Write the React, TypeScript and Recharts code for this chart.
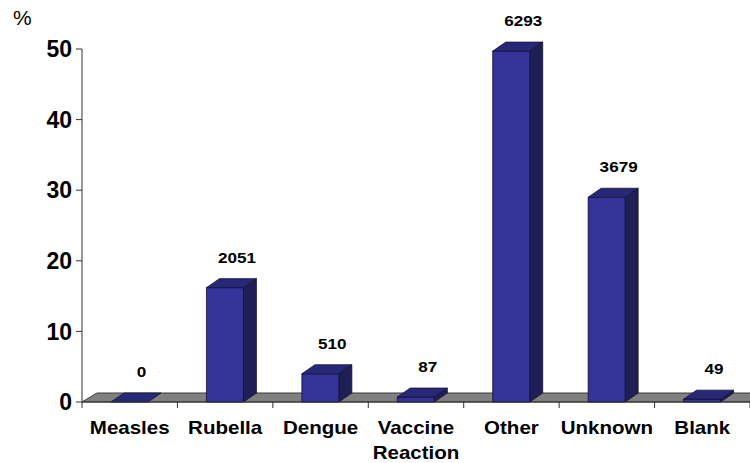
import React from 'react';
import { BarChart, Bar, XAxis, YAxis, ReferenceArea, LabelList } from 'recharts';

const categories = ['Measles', 'Rubella', 'Dengue', 'Vaccine Reaction', 'Other', 'Unknown', 'Blank'];
const percents = [0, 16.2, 4.0, 0.7, 49.7, 29.0, 0.4];
const counts = [0, 2051, 510, 87, 6293, 3679, 49];
const yTicks = [0, 10, 20, 30, 40, 50];

const data = categories.map((name, i) => ({ name, pct: percents[i], count: counts[i] }));

const FONT = '"Liberation Sans", Arial, sans-serif';
const DEPTH_X = 13;
const DEPTH_Y = 9;
// the original text is a little wider than Arial
const STRETCH = 1.14;

const Bar3D = (props: any) => {
  const x = Number(props.x);
  const y = Number(props.y);
  const w = Number(props.width);
  const h = Math.max(0, Number(props.height) || 0);
  const top = `${x},${y} ${x + w},${y} ${x + w + DEPTH_X},${y - DEPTH_Y} ${x + DEPTH_X},${y - DEPTH_Y}`;
  const side = `${x + w},${y} ${x + w + DEPTH_X},${y - DEPTH_Y} ${x + w + DEPTH_X},${y + h - DEPTH_Y} ${x + w},${y + h}`;
  return (
    <g stroke="#111133" strokeWidth={0.8} strokeLinejoin="round">
      {h > 0 && <polygon points={side} fill="#1f1f55" />}
      {h > 0 && <rect x={x} y={y} width={w} height={h} fill="#333399" />}
      <polygon points={top} fill="#282878" />
    </g>
  );
};

const Floor = (props: any) => {
  const x = Number(props.x);
  const w = Number(props.width);
  const base = Number(props.y) + Number(props.height);
  const pts = `${x},${base} ${x + w},${base} ${x + w + 15},${base - DEPTH_Y} ${x + 15},${base - DEPTH_Y}`;
  return <polygon points={pts} fill="#808080" stroke="#3a3a3a" strokeWidth={1} />;
};

const CountLabel = (props: any) => {
  const x = Number(props.x);
  const y = Number(props.y);
  const w = Number(props.width);
  return (
    <text
      transform={`translate(${x + w / 2 + 12},${y - 25}) scale(${STRETCH},1)`}
      textAnchor="middle"
      fontFamily={FONT}
      fontWeight="bold"
      fontSize={15}
      fill="#000"
    >
      {props.value}
    </text>
  );
};

const XTick = (props: any) => {
  const { x, y, payload, index } = props;
  const off = payload.offset ?? 0;
  const lines = String(payload.value).split(' ');
  const axisY = y - 6;
  return (
    <g>
      <line x1={x - off} y1={axisY} x2={x - off} y2={axisY + 6} stroke="#333" />
      {index === categories.length - 1 && (
        <line x1={x + off} y1={axisY} x2={x + off} y2={axisY + 6} stroke="#333" />
      )}
      <text
        transform={`translate(${x},${y + 26}) scale(${STRETCH},1)`}
        textAnchor="middle"
        fontFamily={FONT}
        fontWeight="bold"
        fontSize={18}
        fill="#000"
      >
        {lines.map((l, i) => (
          <tspan key={i} x={0} dy={i === 0 ? 0 : 25}>
            {l}
          </tspan>
        ))}
      </text>
    </g>
  );
};

const PercentLabel = (props: any) => {
  const vb = props.viewBox || { x: 0, y: 49 };
  return (
    <text x={vb.x + 13} y={vb.y - 24} fontFamily={FONT} fontSize={21} fill="#000">
      %
    </text>
  );
};

export default function App() {
  return (
    <div style={{ position: 'absolute', left: 0, top: 0, width: 750, height: 463, overflow: 'hidden', background: '#fff' }}>
      <BarChart
        width={750}
        height={463}
        data={data}
        margin={{ top: 49, right: 0, left: 0, bottom: 0 }}
      >
        <ReferenceArea y1={0} y2={50} shape={<Floor />} ifOverflow="visible" />
        <XAxis
          dataKey="name"
          height={61}
          interval={0}
          tickSize={6}
          tickMargin={0}
          tickLine={false}
          axisLine={{ stroke: '#333' }}
          tick={<XTick />}
        />
        <YAxis
          width={82}
          domain={[0, 50]}
          ticks={yTicks}
          tickSize={6}
          tickMargin={4}
          axisLine={{ stroke: '#333' }}
          tickLine={{ stroke: '#333' }}
          tick={{ fontFamily: FONT, fontWeight: 'bold', fontSize: 23, fill: '#000' }}
          label={<PercentLabel />}
        />
        <Bar dataKey="pct" barSize={37} shape={<Bar3D />} isAnimationActive={false}>
          <LabelList dataKey="count" content={<CountLabel />} />
        </Bar>
      </BarChart>
    </div>
  );
}
